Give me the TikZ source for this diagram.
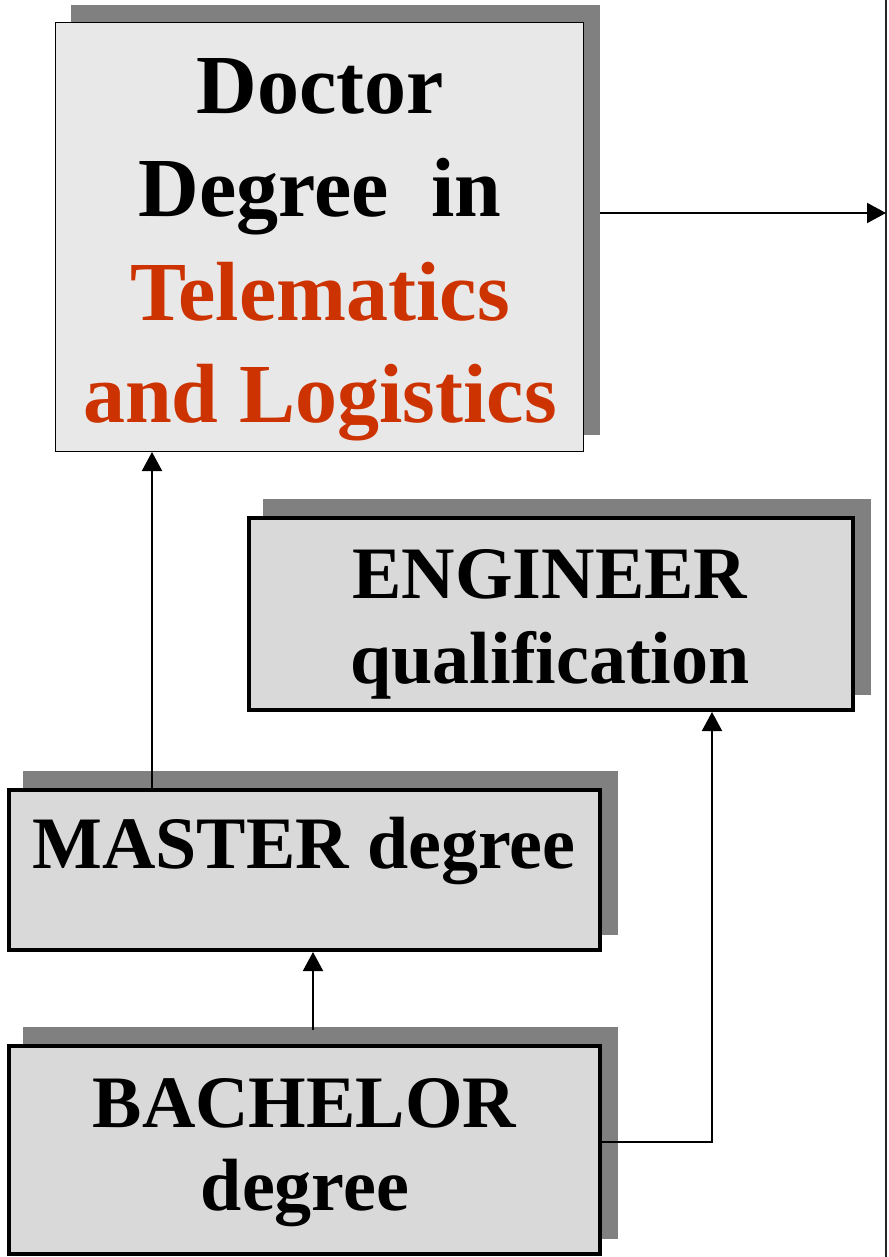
\documentclass[tikz,border=0pt]{standalone}
\usepackage{fontspec}
\setmainfont{Liberation Serif}
\usetikzlibrary{arrows.meta,backgrounds}
\definecolor{docfill}{HTML}{E8E8E8}
\definecolor{boxfill}{HTML}{D9D9D9}
\definecolor{shadowc}{HTML}{808080}
\definecolor{telred}{HTML}{CC3300}
\begin{document}
\begin{tikzpicture}[x=1pt,y=-1pt,
  thinbox/.style={draw=black,line width=1.2pt,fill=docfill,inner sep=0pt},
  thickbox/.style={draw=black,line width=4pt,fill=boxfill,inner sep=0pt},
  bigtxt/.style={font=\fontsize{84}{100}\selectfont\bfseries,anchor=base,inner sep=0pt},
  midtxt/.style={font=\fontsize{74}{90}\selectfont\bfseries,anchor=base,inner sep=0pt},
  conn/.style={line width=2pt,-{Triangle[length=19pt,width=20pt]}},
  shadowfill/.style={fill=shadowc},
  rightline/.style={line width=1.5pt,draw=black!85}]
\useasboundingbox (0,0) rectangle (888,1257);

% boxes
\node[thinbox,minimum width=527.8pt,minimum height=428.8pt] (doc) at (319.5,237) {};
\node[thickbox,minimum width=604pt,minimum height=192pt] (eng) at (551,614) {};
\node[thickbox,minimum width=591pt,minimum height=160pt] (mas) at (304.5,870) {};
\node[thickbox,minimum width=591pt,minimum height=208pt] (bach) at (304.5,1150) {};

% shadows and background
\begin{scope}[on background layer]
  \fill[white] (0,0) rectangle (888,1257);
  \foreach \n in {doc,eng,mas,bach}{
    \fill[shadowfill] ([shift={(16,-17)}]\n.south west) rectangle ([shift={(16,-17)}]\n.north east);
  }
\end{scope}

% texts
\node[bigtxt] (doc1) at (320,114) {Doctor};
\node[bigtxt] (doc2) at (320,217) {Degree\ \ in};
\node[bigtxt,text=telred] (doc3) at (320,320) {Telematics};
\node[bigtxt,text=telred] (doc4) at (320,422) {and Logistics};
\node[midtxt] (eng1) at (550,598) {ENGINEER};
\node[midtxt] (eng2) at (550,683) {qualification};
\node[midtxt] (mas1) at (304,868) {MASTER degree};
\node[midtxt] (bach1) at (304.5,1127) {BACHELOR};
\node[midtxt] (bach2) at (305,1210) {degree};

% right vertical line
\coordinate (rtop) at (886,0);
\coordinate (rbot) at (886,1257);
\draw[rightline] (rtop) -- (rbot);

% connectors
\coordinate (dend) at (886,213);
\draw[conn] ([xshift=16pt]doc.east |- dend) -- (dend);
\coordinate (mx) at (152,0);
\draw[conn] (mas.north -| mx) -- (doc.south -| mx);
\coordinate (bx) at (313,0);
\draw[conn] ([yshift=14pt]bach.north -| bx) -- (mas.south -| bx);
\coordinate (bturn) at (712,1142);
\draw[conn] (bach.east |- bturn) -- (bturn) -- (eng.south -| bturn);
\end{tikzpicture}
\end{document}
